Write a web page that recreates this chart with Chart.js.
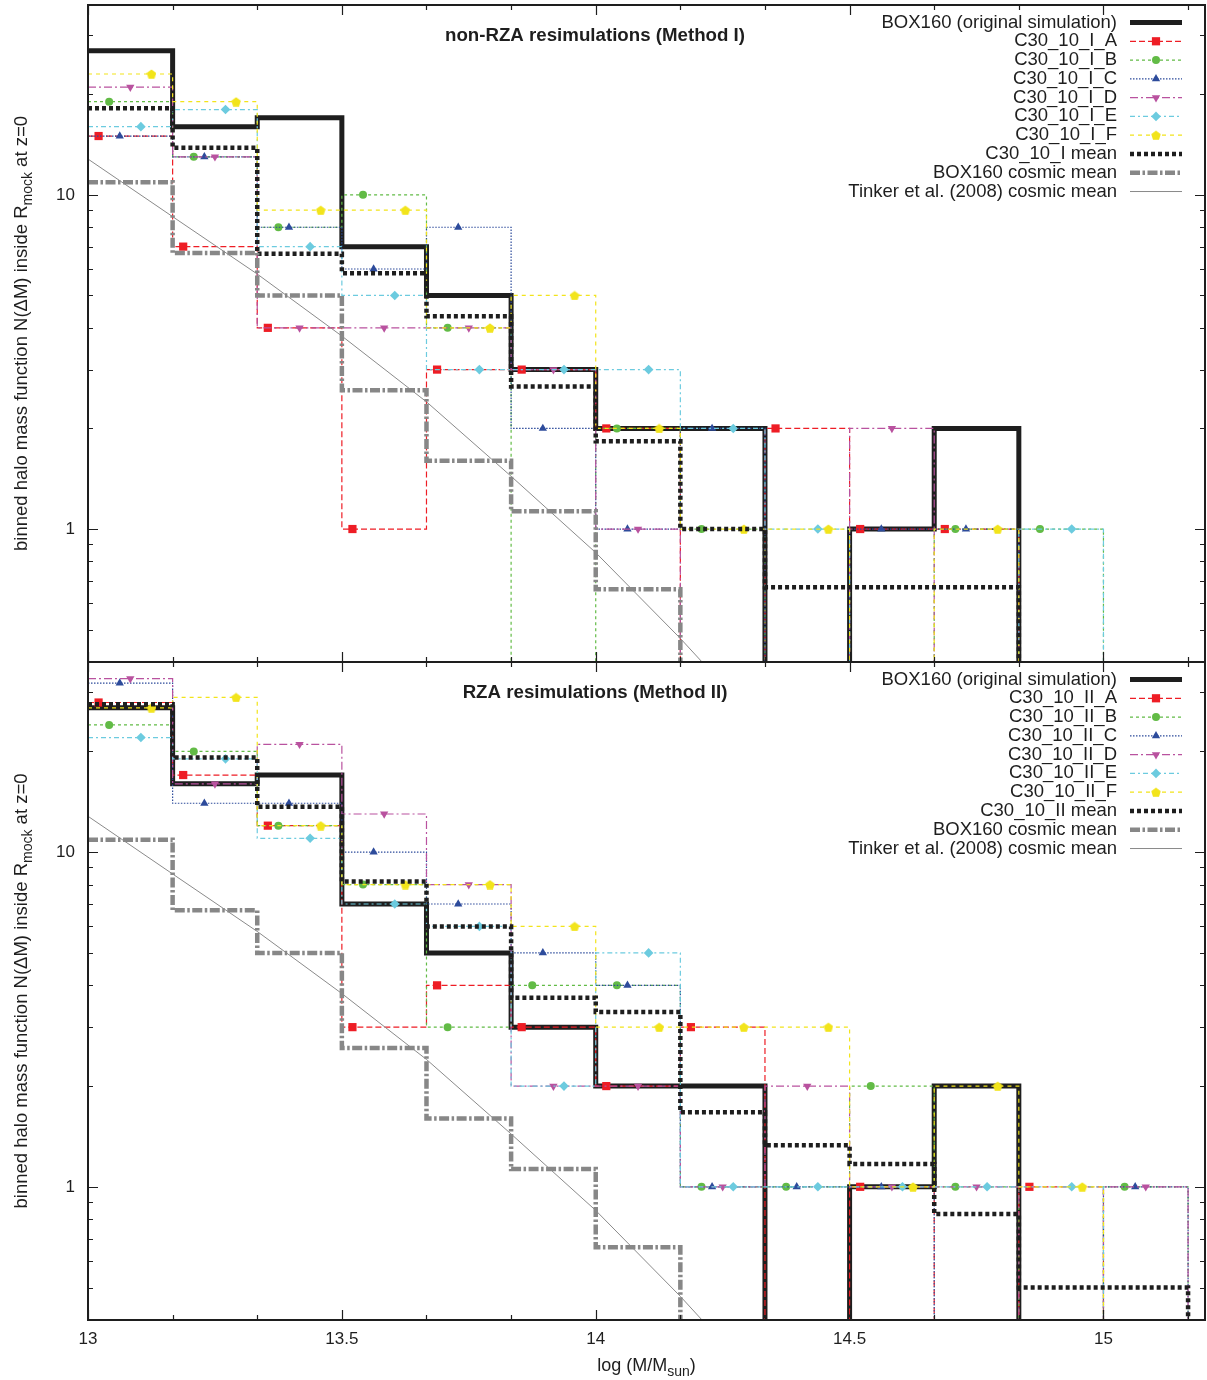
<!DOCTYPE html>
<html>
<head>
<meta charset="utf-8">
<title>binned halo mass function</title>
<script src="https://cdn.jsdelivr.net/npm/chart.js@4.4.1/dist/chart.umd.min.js"></script>
<style>
  body { margin: 0; background: #fff; }
  #wrap { position: relative; width: 1207px; height: 1380px; }
  #wrap canvas { position: absolute; left: 0; }
</style>
</head>
<body>
<div id="wrap">
  <canvas id="hmf-top" width="1207" height="668" style="top:0px"></canvas>
  <canvas id="hmf-bottom" width="1207" height="723" style="top:657px"></canvas>
</div>
<script>
"use strict";

/* --- bins: 13.0 ... 15.167 in steps of 1/6 dex --- */

const bin_lo = 13.0;
const bin_w = 1 / 6;

const x_major = [13, 13.5, 14, 14.5, 15];
const y_major = [1, 10];
const y_minor = [0.4, 0.5, 0.6, 0.7, 0.8, 0.9, 2, 3, 4, 5, 6, 7, 8, 9, 20, 30];

/* --- data shared by both panels --- */

const box160_orig = [27, 16, 17, 7, 5, 3, 2, 2, 0, 1, 2, 0, 0];
const box160_cosmic = [10.9, 6.7, 5.0, 2.6, 1.6, 1.13, 0.66, 0.36];
const tinker_logm = [13.0, 13.167, 13.333, 13.5, 13.667, 13.833, 14.0, 14.167, 14.333];
const tinker_n = [12.8, 8.6, 5.8, 3.78, 2.4, 1.44, 0.85, 0.47, 0.25];

/* --- non-RZA resimulations (Method I) --- */

const c30_I_A = [15, 7, 4, 1, 3, 3, 2, 0, 2, 1, 1, 0, 0];
const c30_I_B = [19, 13, 8, 10, 4, 0, 2, 1, 0, 0, 1, 1, 0];
const c30_I_C = [15, 13, 8, 6, 8, 2, 1, 2, 0, 1, 1, 0, 0];
const c30_I_D = [21, 13, 4, 4, 4, 3, 1, 0, 0, 2, 0, 0, 0];
const c30_I_E = [16, 18, 7, 5, 3, 3, 3, 2, 1, 0, 0, 1, 0];
const c30_I_F = [23, 19, 9, 9, 4, 5, 2, 1, 1, 0, 1, 0, 0];
const c30_I_mean = [18.17, 13.83, 6.67, 5.83, 4.33, 2.67, 1.83, 1.0, 0.67, 0.67, 0.67, 0.33, 0];

/* --- RZA resimulations (Method II) --- */

const c30_II_A = [28, 17, 12, 3, 4, 3, 2, 3, 0, 1, 0, 1, 0];
const c30_II_B = [24, 20, 12, 8, 3, 4, 4, 1, 1, 2, 1, 0, 1];
const c30_II_C = [32, 14, 14, 10, 7, 5, 4, 1, 1, 1, 0, 0, 1];
const c30_II_D = [33, 16, 21, 13, 8, 2, 2, 1, 2, 1, 1, 0, 1];
const c30_II_E = [22, 19, 11, 7, 6, 2, 5, 1, 1, 1, 1, 1, 0];
const c30_II_F = [27, 29, 12, 8, 8, 6, 3, 3, 3, 1, 2, 1, 0];
const c30_II_mean = [27.67, 19.17, 13.67, 8.17, 6.0, 3.67, 3.33, 1.67, 1.33, 1.17, 0.83, 0.5, 0.5];

const FONT = '"Liberation Sans", Arial, Helvetica, sans-serif';
const INK = '#1e1e1e';
const FLOOR = 0.1; // empty bins sit below the axis and get clipped

function make_pentagon(color, size) {
  const c = document.createElement('canvas');
  c.width = size;
  c.height = size;
  const g = c.getContext('2d');
  const r = size / 2;
  g.fillStyle = color;
  g.beginPath();
  for (let i = 0; i < 5; i++) {
    const a = -Math.PI / 2 + i * 2 * Math.PI / 5;
    g.lineTo(r + r * Math.cos(a), r + 0.6 + r * Math.sin(a));
  }
  g.closePath();
  g.fill();
  return c;
}

const run_style = [
  { color: '#ee1d25', dash: [6, 3], point: 'rect', r: 5.8, rot: 0 },
  { color: '#62bb46', dash: [3, 3], point: 'circle', r: 4, rot: 0 },
  { color: '#2d4b9b', dash: [1.5, 1.5], point: 'triangle', r: 4.8, rot: 0 },
  { color: '#b9529f', dash: [8, 3, 2, 3], point: 'triangle', r: 4.8, rot: 180 },
  { color: '#6ccbdf', dash: [5, 3, 2, 3], point: 'rectRot', r: 4.8, rot: 0 },
  { color: '#f2e41b', dash: [4, 4], point: make_pentagon('#f2e41b', 10), r: 5, rot: 0 },
];

const orig_style = { color: INK, width: 5, dash: [] };
const mean_style = { color: INK, width: 4.5, dash: [4, 3] };
const cosmic_style = { color: '#878787', width: 4.5, dash: [10, 2.5, 2.5, 2.5] };
const tinker_style = { color: '#8a8a8a', width: 1, dash: [] };

// histogram outline: left edge of every bin, then one drop at the end
function steps(vals) {
  const pts = vals.map((v, i) => ({ x: bin_lo + i * bin_w, y: v > 0 ? v : FLOOR }));
  pts.push({ x: bin_lo + vals.length * bin_w, y: FLOOR });
  return pts;
}

// markers sit k/8 of a bin to the right of the bin edge
function marks(vals, k) {
  return vals
    .map((v, i) => ({ x: bin_lo + (i + k / 8) * bin_w, y: v }))
    .filter(p => p.y > 0);
}

function step_ds(vals, st, order) {
  return {
    data: steps(vals),
    stepped: 'before',
    borderColor: st.color,
    borderWidth: st.width,
    borderDash: st.dash,
    borderCapStyle: 'butt',
    pointRadius: 0,
    fill: false,
    order: order
  };
}

function panel_datasets(runs, mean) {
  const ds = [];
  let order = 100;
  ds.push(step_ds(box160_orig, orig_style, order--));
  runs.forEach((vals, j) => {
    const st = run_style[j];
    ds.push(step_ds(vals, { color: st.color, width: 1.2, dash: st.dash }, order--));
    ds.push({
      data: marks(vals, j + 1),
      showLine: false,
      pointStyle: st.point,
      pointRadius: st.r,
      pointRotation: st.rot,
      pointBackgroundColor: st.color,
      pointBorderColor: st.color,
      pointBorderWidth: 0,
      order: order--
    });
  });
  ds.push(step_ds(mean, mean_style, order--));
  ds.push(step_ds(box160_cosmic, cosmic_style, order--));
  ds.push({
    data: tinker_logm.map((m, i) => ({ x: m, y: tinker_n[i] })),
    borderColor: tinker_style.color,
    borderWidth: tinker_style.width,
    pointRadius: 0,
    tension: 0,
    order: order--
  });
  return ds;
}

function key_rows(tag) {
  const rows = [{ label: 'BOX160 (original simulation)', st: orig_style }];
  ['A', 'B', 'C', 'D', 'E', 'F'].forEach((k, j) => {
    const s = run_style[j];
    rows.push({ label: 'C30_10_' + tag + '_' + k, st: { color: s.color, width: 1.2, dash: s.dash }, pt: s });
  });
  rows.push({ label: 'C30_10_' + tag + ' mean', st: mean_style });
  rows.push({ label: 'BOX160 cosmic mean', st: cosmic_style });
  rows.push({ label: 'Tinker et al. (2008) cosmic mean', st: tinker_style });
  return rows;
}

/* --- frame, inward ticks, key, titles --- */

function deco_plugin(title, rows, show_xtitle) {
  return {
    id: 'deco',
    afterDraw(chart) {
      const { ctx, chartArea: a, scales: { x, y } } = chart;
      ctx.save();

      // ticks on all four sides, pointing inward
      ctx.strokeStyle = INK;
      ctx.lineWidth = 1.2;
      ctx.beginPath();
      const xt = (v, len) => {
        const px = Math.round(x.getPixelForValue(v)) + 0.5;
        ctx.moveTo(px, a.bottom); ctx.lineTo(px, a.bottom - len);
        ctx.moveTo(px, a.top); ctx.lineTo(px, a.top + len);
      };
      const yt = (v, len) => {
        const py = Math.round(y.getPixelForValue(v)) + 0.5;
        ctx.moveTo(a.left, py); ctx.lineTo(a.left + len, py);
        ctx.moveTo(a.right, py); ctx.lineTo(a.right - len, py);
      };
      for (let i = 1; bin_lo + i * bin_w < x.max; i++) xt(bin_lo + i * bin_w, 5);
      x_major.forEach(v => xt(v, 10));
      y_minor.forEach(v => yt(v, 5));
      y_major.forEach(v => yt(v, 10));
      ctx.stroke();

      ctx.lineWidth = 2;
      ctx.strokeRect(a.left, a.top, a.right - a.left, a.bottom - a.top);

      // panel title
      ctx.fillStyle = INK;
      ctx.font = 'bold 18.7px ' + FONT;
      ctx.textAlign = 'center';
      ctx.textBaseline = 'middle';
      ctx.fillText(title, 595, a.top + 31);

      // key: text right-aligned, sample to the right
      ctx.font = '18.5px ' + FONT;
      ctx.textAlign = 'right';
      rows.forEach((row, i) => {
        const ry = a.top + 17.5 + i * 18.78;
        ctx.fillStyle = INK;
        ctx.fillText(row.label, 1117, ry);
        ctx.strokeStyle = row.st.color;
        ctx.lineWidth = row.st.width;
        ctx.setLineDash(row.st.dash);
        ctx.lineCap = 'butt';
        ctx.beginPath();
        ctx.moveTo(1130, ry);
        ctx.lineTo(1182, ry);
        ctx.stroke();
        ctx.setLineDash([]);
        if (row.pt) {
          ctx.fillStyle = row.pt.color;
          Chart.helpers.drawPoint(ctx, {
            pointStyle: row.pt.point, radius: row.pt.r, rotation: row.pt.rot, borderWidth: 0
          }, 1156, ry);
        }
      });

      // y title with subscript, reading upward
      const cy = (a.top + a.bottom) / 2;
      const p1 = 'binned halo mass function N(\u0394M) inside R';
      const sub = 'mock';
      const p2 = ' at z=0';
      ctx.fillStyle = INK;
      ctx.translate(21, cy);
      ctx.rotate(-Math.PI / 2);
      ctx.textAlign = 'left';
      ctx.textBaseline = 'alphabetic';
      ctx.font = '18.5px ' + FONT;
      const w1 = ctx.measureText(p1).width;
      const w2 = ctx.measureText(p2).width;
      ctx.font = '14px ' + FONT;
      const ws = ctx.measureText(sub).width;
      const x0 = -(w1 + ws + w2) / 2;
      ctx.font = '18.5px ' + FONT;
      ctx.fillText(p1, x0, 6);
      ctx.font = '14px ' + FONT;
      ctx.fillText(sub, x0 + w1, 11);
      ctx.font = '18.5px ' + FONT;
      ctx.fillText(p2, x0 + w1 + ws, 6);
      ctx.setTransform(1, 0, 0, 1, 0, 0);

      // x title with subscript
      if (show_xtitle) {
        const q1 = 'log (M/M';
        const qs = 'sun';
        const q2 = ')';
        ctx.font = '18px ' + FONT;
        const v1 = ctx.measureText(q1).width;
        const v2 = ctx.measureText(q2).width;
        ctx.font = '14px ' + FONT;
        const vs = ctx.measureText(qs).width;
        const cx = (a.left + a.right) / 2 - (v1 + vs + v2) / 2;
        const by = a.bottom + 51;
        ctx.font = '18px ' + FONT;
        ctx.fillText(q1, cx, by);
        ctx.font = '14px ' + FONT;
        ctx.fillText(qs, cx + v1, by + 5);
        ctx.font = '18px ' + FONT;
        ctx.fillText(q2, cx + v1 + vs, by);
      }
      ctx.restore();
    }
  };
}

// axis label room is fixed, so drop the label overhang padding
function no_overhang(s) {
  s.paddingTop = 0;
  s.paddingBottom = 0;
  s.paddingLeft = 0;
  s.paddingRight = 0;
}

function make_panel(canvas_id, runs, mean, title, tag, is_bottom) {
  const el = document.getElementById(canvas_id);
  return new Chart(el, {
    type: 'line',
    data: { datasets: panel_datasets(runs, mean) },
    options: {
      responsive: false,
      animation: false,
      devicePixelRatio: 1,
      events: [],
      layout: {
        autoPadding: false,
        padding: { top: 5, right: 2, bottom: is_bottom ? 0 : 6, left: 0 }
      },
      plugins: {
        legend: { display: false },
        tooltip: { enabled: false },
        title: { display: false }
      },
      scales: {
        x: {
          type: 'linear',
          min: 13,
          max: 15.2,
          display: is_bottom,
          grid: { display: false, drawTicks: false },
          border: { display: false },
          afterBuildTicks: s => { s.ticks = x_major.map(v => ({ value: v })); },
          afterFit: s => { s.height = is_bottom ? 60 : 0; no_overhang(s); },
          ticks: {
            autoSkip: false,
            maxRotation: 0,
            padding: 9,
            color: INK,
            font: { family: FONT, size: 17 },
            callback: v => String(v)
          }
        },
        y: {
          type: 'logarithmic',
          min: 0.4,
          max: 37,
          grid: { display: false, drawTicks: false },
          border: { display: false },
          afterBuildTicks: s => { s.ticks = y_major.map(v => ({ value: v })); },
          afterFit: s => { s.width = 88; no_overhang(s); },
          ticks: {
            autoSkip: false,
            padding: 13,
            color: INK,
            font: { family: FONT, size: 17 },
            callback: v => String(v)
          }
        }
      }
    },
    plugins: [deco_plugin(title, key_rows(tag), is_bottom)]
  });
}

const chart_I = make_panel('hmf-top',
  [c30_I_A, c30_I_B, c30_I_C, c30_I_D, c30_I_E, c30_I_F], c30_I_mean,
  'non-RZA resimulations (Method I)', 'I', false);

const chart_II = make_panel('hmf-bottom',
  [c30_II_A, c30_II_B, c30_II_C, c30_II_D, c30_II_E, c30_II_F], c30_II_mean,
  'RZA resimulations (Method II)', 'II', true);
</script>
</body>
</html>
